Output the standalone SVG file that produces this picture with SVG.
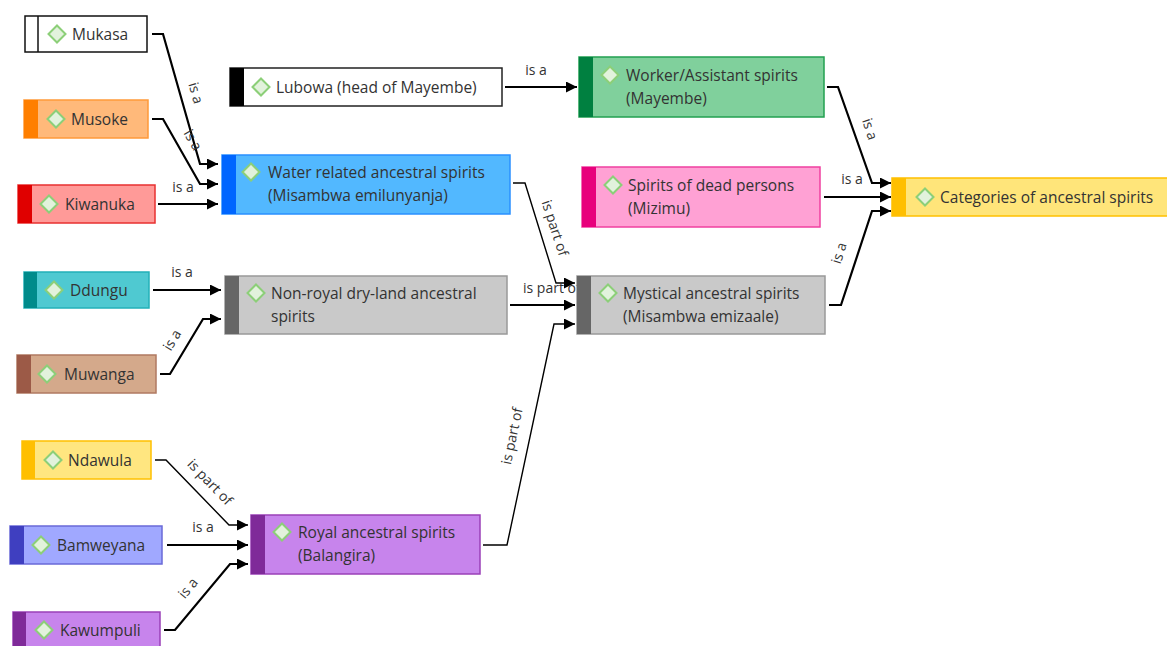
<svg xmlns="http://www.w3.org/2000/svg" width="1167" height="646" viewBox="0 0 1167 646">
<defs>
<style>
.box{stroke-width:1.5}
.t{font-family:"Open Sans","Noto Sans","Liberation Sans",sans-serif;font-size:15.5px;fill:#333}
.lbl{font-family:"Open Sans","Noto Sans","Liberation Sans",sans-serif;font-size:14px;fill:#333;text-anchor:middle}
.c{fill:none;stroke:#000;stroke-width:2.2;marker-end:url(#ah)}
.thin{stroke-width:1.4}
.dia{fill:#e2f2dc;stroke:#8ccf78;stroke-width:2}
</style>
<marker id="ah" markerUnits="userSpaceOnUse" markerWidth="11" markerHeight="11" refX="11" refY="5.5" orient="auto">
<path d="M0,0 L11,5.5 L0,11 z" fill="#000"/>
</marker>
<path id="dm" d="M0,-8.5 L8.5,0 L0,8.5 L-8.5,0 z"/>
</defs>
<rect width="1167" height="646" fill="#fff"/>

<g id="connectors">
<path class="c" d="M152,34 H163 L200,164 H218"/>
<path class="c" d="M152,119 H163 L200,184 H218"/>
<path class="c" d="M158,204 H218"/>
<path class="c" d="M505,87 H577"/>
<path class="c thin" d="M513,183 H525 L556,283 H575"/>
<path class="c" d="M510,305 H575"/>
<path class="c thin" d="M483,545 H507 L554,324 H575"/>
<path class="c" d="M153,290 H221"/>
<path class="c" d="M160,374 H170 L203,319 H221"/>
<path class="c thin" d="M155,460 H166 L229,525 H248"/>
<path class="c" d="M167,545 H248"/>
<path class="c" d="M164,630 H175 L230,564 H248"/>
<path class="c" d="M827,87 H838 L872,183 H891"/>
<path class="c" d="M824,197 H891"/>
<path class="c" d="M829,305 H841 L872,211 H891"/>
<text class="lbl" transform="translate(196,93) rotate(74)" dy="0.35em">is a</text>
<text class="lbl" transform="translate(193,140) rotate(60)" dy="0.35em">is a</text>
<text class="lbl" transform="translate(183,187)" dy="0.35em">is a</text>
<text class="lbl" transform="translate(536,70)" dy="0.35em">is a</text>
<text class="lbl" transform="translate(555,228) rotate(72)" dy="0.35em">is part of</text>
<text class="lbl" x="523" y="293" style="text-anchor:start">is part of</text>
<text class="lbl" transform="translate(512,436) rotate(-78)" dy="0.35em">is part of</text>
<text class="lbl" transform="translate(182,272)" dy="0.35em">is a</text>
<text class="lbl" transform="translate(172,340) rotate(-59)" dy="0.35em">is a</text>
<text class="lbl" transform="translate(210,482) rotate(46)" dy="0.35em">is part of</text>
<text class="lbl" transform="translate(203,527)" dy="0.35em">is a</text>
<text class="lbl" transform="translate(188,588) rotate(-50)" dy="0.35em">is a</text>
<text class="lbl" transform="translate(870,129) rotate(72)" dy="0.35em">is a</text>
<text class="lbl" transform="translate(852,179)" dy="0.35em">is a</text>
<text class="lbl" transform="translate(839,253) rotate(-72)" dy="0.35em">is a</text>
</g>

<g id="mukasa">
<rect class="box" x="25" y="16" width="122" height="36" fill="#fff" stroke="#111"/>
<line x1="38" y1="16" x2="38" y2="52" stroke="#111" stroke-width="1.5"/>
<use href="#dm" class="dia" x="57" y="34"/>
<text class="t" x="72" y="39.5">Mukasa</text>
</g>
<g id="musoke">
<rect class="box" x="24" y="100" width="124" height="38" fill="#ffb97a" stroke="#ff9a3a"/>
<rect x="24" y="100" width="14" height="38" fill="#ff7f00"/>
<use href="#dm" class="dia" x="56" y="119"/>
<text class="t" x="71" y="124.5">Musoke</text>
</g>
<g id="kiwanuka">
<rect class="box" x="18" y="185" width="137" height="38" fill="#ff9a98" stroke="#e83030"/>
<rect x="18" y="185" width="14" height="38" fill="#e00000"/>
<use href="#dm" class="dia" x="49" y="204"/>
<text class="t" x="65" y="209.5">Kiwanuka</text>
</g>
<g id="ddungu">
<rect class="box" x="24" y="272" width="125" height="36" fill="#4fc9d1" stroke="#22b0b8"/>
<rect x="24" y="272" width="13" height="36" fill="#008b8b"/>
<use href="#dm" class="dia" x="54" y="290"/>
<text class="t" x="70" y="295.5">Ddungu</text>
</g>
<g id="muwanga">
<rect class="box" x="17" y="355" width="139" height="38" fill="#d4a98b" stroke="#b07a62"/>
<rect x="17" y="355" width="14" height="38" fill="#9c5a47"/>
<use href="#dm" class="dia" x="47" y="374"/>
<text class="t" x="64" y="379.5">Muwanga</text>
</g>
<g id="ndawula">
<rect class="box" x="22" y="441" width="129" height="38" fill="#ffe680" stroke="#ffc000"/>
<rect x="22" y="441" width="13" height="38" fill="#ffbf00"/>
<use href="#dm" class="dia" x="53" y="460"/>
<text class="t" x="68" y="465.5">Ndawula</text>
</g>
<g id="bamweyana">
<rect class="box" x="10" y="526" width="152" height="38" fill="#a0a8ff" stroke="#6a6ad8"/>
<rect x="10" y="526" width="14" height="38" fill="#3f3fc0"/>
<use href="#dm" class="dia" x="41" y="545"/>
<text class="t" x="57" y="550.5">Bamweyana</text>
</g>
<g id="kawumpuli">
<rect class="box" x="13" y="612" width="147" height="40" fill="#c784ec" stroke="#9a40b8"/>
<rect x="13" y="612" width="13" height="40" fill="#7f2a99"/>
<use href="#dm" class="dia" x="44" y="630"/>
<text class="t" x="60" y="635.5">Kawumpuli</text>
</g>
<g id="lubowa">
<rect class="box" x="230" y="68" width="272" height="38" fill="#fff" stroke="#222"/>
<rect x="230" y="68" width="14" height="38" fill="#000"/>
<use href="#dm" class="dia" x="261" y="87"/>
<text class="t" x="276" y="92.5">Lubowa (head of Mayembe)</text>
</g>
<g id="water">
<rect class="box" x="222" y="155" width="288" height="59" fill="#52b8ff" stroke="#2a90ff"/>
<rect x="222" y="155" width="14" height="59" fill="#0066ff"/>
<use href="#dm" class="dia" x="251" y="172"/>
<text class="t" x="268" y="177.5">Water related ancestral spirits</text>
<text class="t" x="268" y="200.5">(Misambwa emilunyanja)</text>
</g>
<g id="nonroyal">
<rect class="box" x="225" y="276" width="282" height="58" fill="#c9c9c9" stroke="#999"/>
<rect x="225" y="276" width="14" height="58" fill="#666"/>
<use href="#dm" class="dia" x="256" y="293"/>
<text class="t" x="271" y="298.5">Non-royal dry-land ancestral</text>
<text class="t" x="271" y="321.5">spirits</text>
</g>
<g id="royal">
<rect class="box" x="251" y="515" width="229" height="59" fill="#c784ec" stroke="#9a40b8"/>
<rect x="251" y="515" width="14" height="59" fill="#7f2a99"/>
<use href="#dm" class="dia" x="282" y="532"/>
<text class="t" x="298" y="537.5">Royal ancestral spirits</text>
<text class="t" x="298" y="560.5">(Balangira)</text>
</g>
<g id="worker">
<rect class="box" x="579" y="57" width="245" height="60" fill="#80d09c" stroke="#22a050"/>
<rect x="579" y="57" width="14" height="60" fill="#008040"/>
<use href="#dm" class="dia" x="610" y="75"/>
<text class="t" x="626" y="81">Worker/Assistant spirits</text>
<text class="t" x="626" y="104">(Mayembe)</text>
</g>
<g id="dead">
<rect class="box" x="582" y="167" width="238" height="60" fill="#ffa1d4" stroke="#f040a0"/>
<rect x="582" y="167" width="14" height="60" fill="#e8007c"/>
<use href="#dm" class="dia" x="613" y="185"/>
<text class="t" x="628" y="191">Spirits of dead persons</text>
<text class="t" x="628" y="214">(Mizimu)</text>
</g>
<g id="mystical">
<rect class="box" x="577" y="276" width="248" height="58" fill="#c9c9c9" stroke="#999"/>
<rect x="577" y="276" width="14" height="58" fill="#666"/>
<use href="#dm" class="dia" x="608" y="293"/>
<text class="t" x="623" y="299">Mystical ancestral spirits</text>
<text class="t" x="623" y="322">(Misambwa emizaale)</text>
</g>
<g id="categories">
<rect class="box" x="892" y="178" width="276" height="38" fill="#ffe57a" stroke="#ffc000"/>
<rect x="892" y="178" width="14" height="38" fill="#ffbf00"/>
<use href="#dm" class="dia" x="925" y="197"/>
<text class="t" x="940" y="202.5">Categories of ancestral spirits</text>
</g>
</svg>
